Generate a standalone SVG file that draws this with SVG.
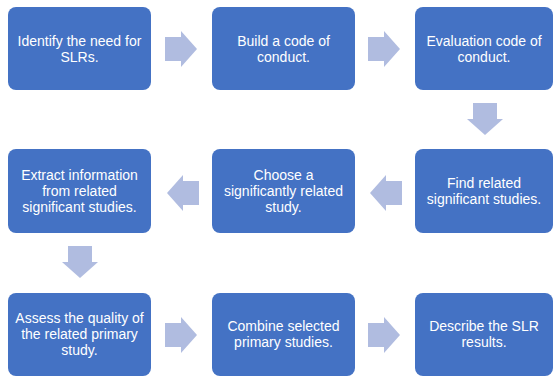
<svg xmlns="http://www.w3.org/2000/svg" width="554" height="378" viewBox="0 0 554 378">
  <style>
    .box { fill: #4472C4; }
    .lbl { fill: #FFFFFF; font-family: "Liberation Sans", Arial, sans-serif; font-size: 14px; text-anchor: middle; }
    .arrow { fill: #B0BCE0; }
  </style>
  <defs>
    <!-- block arrow pointing right, centred on the origin -->
    <path id="blockArrow" d="M-16,-12 H0 V-18 L16,0 L0,18 V12 H-16 Z"/>
  </defs>
  <rect width="554" height="378" fill="#FFFFFF"/>

  <g id="connectors" class="arrow">
    <use href="#blockArrow" transform="translate(181,49)"/>
    <use href="#blockArrow" transform="translate(384,49)"/>
    <use href="#blockArrow" transform="translate(485,119) rotate(90)"/>
    <use href="#blockArrow" transform="translate(386,193) rotate(180)"/>
    <use href="#blockArrow" transform="translate(183,193) rotate(180)"/>
    <use href="#blockArrow" transform="translate(80,262) rotate(90)"/>
    <use href="#blockArrow" transform="translate(181,335)"/>
    <use href="#blockArrow" transform="translate(384,335)"/>
  </g>

  <g id="identify">
    <rect class="box" x="8" y="7" width="143" height="83" rx="8"/>
    <text class="lbl" x="79.5" y="46">Identify the need for</text>
    <text class="lbl" x="79.5" y="62">SLRs.</text>
  </g>
  <g id="build">
    <rect class="box" x="212" y="7" width="143" height="83" rx="8"/>
    <text class="lbl" x="283.5" y="46">Build a code of</text>
    <text class="lbl" x="283.5" y="62">conduct.</text>
  </g>
  <g id="evaluate">
    <rect class="box" x="415" y="7" width="138" height="83" rx="8"/>
    <text class="lbl" x="484" y="46">Evaluation code of</text>
    <text class="lbl" x="484" y="62">conduct.</text>
  </g>
  <g id="find">
    <rect class="box" x="415" y="149" width="138" height="84" rx="8"/>
    <text class="lbl" x="484" y="188">Find related</text>
    <text class="lbl" x="484" y="204">significant studies.</text>
  </g>
  <g id="choose">
    <rect class="box" x="212" y="149" width="143" height="84" rx="8"/>
    <text class="lbl" x="283.5" y="180">Choose a</text>
    <text class="lbl" x="283.5" y="196">significantly related</text>
    <text class="lbl" x="283.5" y="212">study.</text>
  </g>
  <g id="extract">
    <rect class="box" x="8" y="149" width="143" height="84" rx="8"/>
    <text class="lbl" x="79.5" y="180">Extract information</text>
    <text class="lbl" x="79.5" y="196">from related</text>
    <text class="lbl" x="79.5" y="212">significant studies.</text>
  </g>
  <g id="assess">
    <rect class="box" x="8" y="293" width="143" height="83" rx="8"/>
    <text class="lbl" x="79.5" y="323">Assess the quality of</text>
    <text class="lbl" x="79.5" y="339">the related primary</text>
    <text class="lbl" x="79.5" y="355">study.</text>
  </g>
  <g id="combine">
    <rect class="box" x="212" y="293" width="143" height="83" rx="8"/>
    <text class="lbl" x="283.5" y="331">Combine selected</text>
    <text class="lbl" x="283.5" y="347">primary studies.</text>
  </g>
  <g id="describe">
    <rect class="box" x="415" y="293" width="138" height="83" rx="8"/>
    <text class="lbl" x="484" y="331">Describe the SLR</text>
    <text class="lbl" x="484" y="347">results.</text>
  </g>
</svg>
